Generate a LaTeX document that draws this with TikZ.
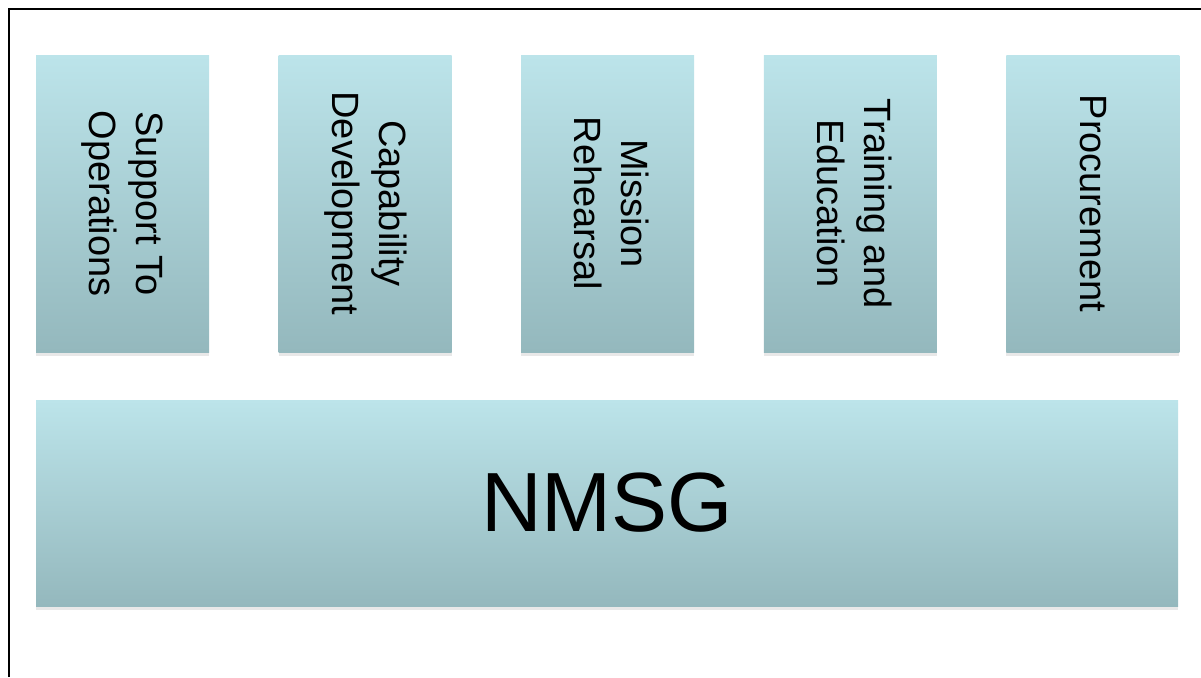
\documentclass[tikz,border=0pt]{standalone}
\usepackage{fontspec}
\setmainfont{Liberation Sans}
\usepackage{graphicx}
\usetikzlibrary{positioning,shadows}
\definecolor{boxtop}{RGB}{188,228,234}
\definecolor{boxbot}{RGB}{148,184,189}
\begin{document}
\begin{tikzpicture}[x=0.5pt, y=-0.5pt, node distance={34.4pt},
  main/.style = {top color=boxtop, bottom color=boxbot, inner sep=0pt, text=black,
    drop shadow={opacity=0.18, shadow xshift=0pt, shadow yshift=-2pt},
    minimum width=86.5pt, minimum height=148.5pt, font=\fontsize{19}{23.5}\selectfont},
  base/.style = {main, minimum width=571pt, minimum height=103pt, font=\fontsize{42}{48}\selectfont}]
\useasboundingbox (0,0) rectangle (1201,677);
\draw[line width=1.2pt] (9,677) -- (9,9) -- (1201,9);
\node[main] (1) at (122.5,203.5) {\rotatebox{-90}{\begin{tabular}{@{}c@{}}Support To\\Operations\end{tabular}}};
\node[main] (2) [right=of 1] {\rotatebox{-90}{\begin{tabular}{@{}c@{}}Capability\\Development\end{tabular}}};
\node[main] (3) [right=of 2] {\rotatebox{-90}{\begin{tabular}{@{}c@{}}Mission\\Rehearsal\end{tabular}}};
\node[main] (4) [right=of 3] {\rotatebox{-90}{\begin{tabular}{@{}c@{}}Training and\\Education\end{tabular}}};
\node[main] (5) [right=of 4] {\rotatebox{-90}{Procurement}};
\node[base] (nmsg) at (607,503) {\raisebox{-3pt}{NMSG}};
\end{tikzpicture}
\end{document}
